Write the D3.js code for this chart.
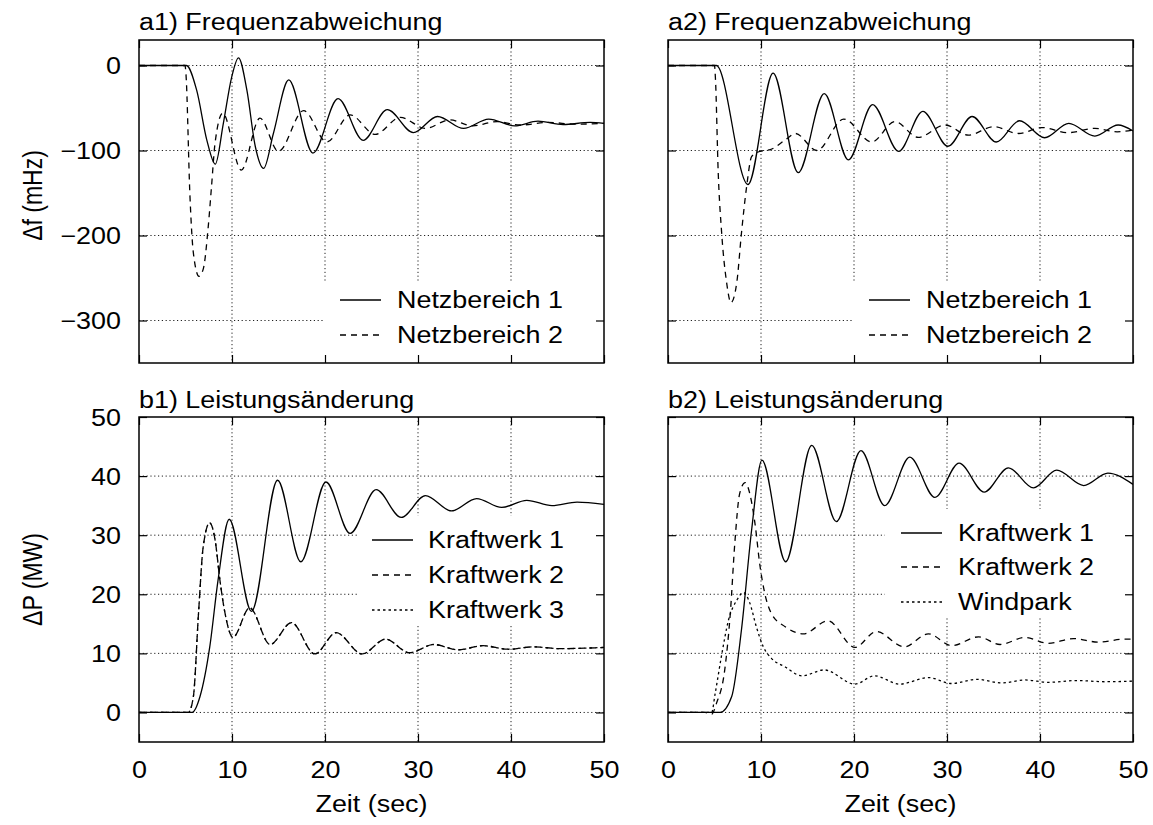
<!DOCTYPE html>
<html><head><meta charset="utf-8">
<script src="https://cdn.jsdelivr.net/npm/d3@7"></script>
<style>
body{margin:0;background:#fff}
svg{display:block}
text{font-family:"Liberation Sans",Arial,Helvetica,sans-serif;font-size:23px;fill:#000}
</style>
</head><body>
<svg id="c" width="1153" height="825"></svg>
<script>
// ---------- data ----------
const xTicks = [0, 10, 20, 30, 40, 50];
const fTicks = [-300, -200, -100, 0];
const pTicks = [0, 10, 20, 30, 40, 50];
const fLabels = ["\u2212300", "\u2212200", "\u2212100", "0"];

const titles = ["a1) Frequenzabweichung", "a2) Frequenzabweichung", "b1) Leistungs\u00e4nderung", "b2) Leistungs\u00e4nderung"];
const namesA = ["Netzbereich 1", "Netzbereich 2"];
const namesB1 = ["Kraftwerk 1", "Kraftwerk 2", "Kraftwerk 3"];
const namesB2 = ["Kraftwerk 1", "Kraftwerk 2", "Windpark"];

// a1: frequency deviation (mHz) vs time (s)
const a1Net1 = [[0,0],[5.1,0],[6.2,-29],[7.3,-88],[8.2,-116],[9.07,-68],[9.96,-14],[10.7,9],[11.6,-29],[12.5,-95],[13.4,-121],[14.45,-80],[16.1,-17],[18.7,-103],[21.4,-39],[24.1,-88],[26.7,-52],[29.5,-79],[32.1,-60],[34.9,-74],[37.6,-63],[40.4,-71],[42.9,-65.5],[45.6,-69.5],[48.5,-67],[50,-68]];
const a1Net2 = [[0,0],[4.95,0],[5.05,-10],[5.48,-154],[5.84,-220],[6.45,-248],[6.92,-239],[7.45,-189],[7.8,-142],[8.17,-92],[9.0,-56],[11.0,-123],[13.0,-62],[15.0,-101],[17.7,-53],[20.2,-90],[22.7,-58],[25.4,-81],[28.1,-61],[30.8,-74],[33.4,-64],[35.9,-71],[38.5,-66],[41,-70],[44,-67],[47,-69],[50,-68]];
// a2
const a2Net1 = [[0,0],[5.2,0],[8.6,-140],[11.3,-9],[14.0,-126],[16.8,-33],[19.4,-111],[22.0,-46],[24.8,-101],[27.4,-54],[30.1,-95],[32.7,-60],[35.3,-90],[37.8,-65],[40.5,-85],[43.1,-68],[45.9,-83],[48.4,-70],[50,-77]];
const a2Net2 = [[0,0],[5.0,0],[5.1,-15],[5.4,-126],[5.77,-197],[6.3,-255],[6.77,-279],[7.4,-255],[7.9,-197],[8.46,-142],[9.0,-107],[9.9,-101],[11,-99],[12.8,-86],[13.7,-80],[16,-100],[18.9,-63],[21.9,-90],[24.4,-66],[26.9,-84.5],[29.8,-70],[32.3,-82],[35,-72],[37.7,-80],[40.2,-73],[43,-79],[45.9,-74],[48.3,-78],[50,-76]];
// b1: power change (MW)
const b1K1 = [[0,0],[5.7,0],[6.56,2.7],[7.6,11],[8.5,22.4],[9.7,32.7],[12.1,17.1],[14.9,39.3],[17.4,25.5],[20.1,39],[22.7,30.3],[25.5,37.7],[28.2,33],[30.8,36.7],[33.6,34.1],[36.3,36.2],[39,34.7],[41.7,35.9],[44.4,35],[47.1,35.6],[50,35.2]];
const b1K2 = [[0,0],[5.3,0],[5.84,2.6],[6.4,16.8],[6.9,28],[7.6,32.1],[8.2,29],[8.7,22.4],[9.25,16.8],[10.1,12.7],[11.9,17.7],[14.1,11.5],[16.4,15.2],[18.9,9.9],[21.2,13.5],[24,9.9],[26.5,12.4],[29.1,10.1],[31.7,11.5],[34.3,10.6],[37,11.3],[39.7,10.7],[42.4,11.1],[45.3,10.8],[50,11]];
const b1K3 = [[0,0],[5.3,0],[5.84,2.6],[6.4,16.8],[6.9,28],[7.6,32.1],[8.2,29],[8.7,22.4],[9.25,16.8],[10.1,12.7],[11.9,17.7],[14.1,11.5],[16.4,15.2],[18.9,9.9],[21.2,13.5],[24,9.9],[26.5,12.4],[29.1,10.1],[31.7,11.5],[34.3,10.6],[37,11.3],[39.7,10.7],[42.4,11.1],[45.3,10.8],[50,11]];
// b2
const b2K1 = [[0,0],[5.6,0],[6.85,2.7],[7.9,14],[9.0,31],[10.1,42.7],[12.65,25.5],[15.45,45.2],[18.1,32.3],[20.75,44.3],[23.3,35],[26,43.2],[28.7,36.4],[31.3,42.2],[34,37.3],[36.6,41.4],[39.3,38],[41.8,41],[44.7,38.4],[47.3,40.5],[50,38.6]];
const b2K2 = [[0,0],[4.0,0],[4.7,-0.3],[5.2,1.5],[6.1,7.2],[6.7,16.8],[7.2,29],[7.7,37],[8.3,38.9],[8.8,37],[9.35,32],[9.9,24.7],[10.4,20.2],[11.1,16.8],[12.6,14.5],[14.55,13.3],[17.2,15.5],[20.1,11],[22.4,13.7],[25.4,11.1],[28,13.3],[30.5,11.3],[33.4,12.8],[35.7,11.5],[38.4,12.7],[40.9,11.7],[43.6,12.5],[46.3,11.9],[49.1,12.4],[50,12.4]];
const b2Wind = [[0,0],[4.7,0],[5.05,3],[5.8,10],[6.5,15.6],[7.4,19],[8.1,20.3],[8.8,18.5],[9.5,14.5],[10.25,11.1],[11.1,9.2],[12.6,7.7],[14.4,6.2],[16.8,7.2],[20.1,4.8],[22.2,6.2],[24.9,4.8],[28,5.9],[30.5,4.9],[33.2,5.6],[35.9,5],[38.4,5.5],[40.9,5.1],[44,5.4],[47,5.2],[50,5.3]];

// ---------- layout / styles ----------
const SX = 1.17;            // horizontal text stretch of the original
const DASH = "6,5", DOT = "2.5,3";
const panels = [
  {title: titles[0], x0:139, x1:604, y0:40, y1:363, dom:[-350,30], yt:fTicks, ylab:fLabels, showY:true, showX:false,
   series:[{d:a1Net1,dash:null},{d:a1Net2,dash:DASH}], names:namesA,
   leg:{rows:[308,343], boxL:280, boxT:283, boxB:363, lineX:264, textX:207}},
  {title: titles[1], x0:668, x1:1133, y0:40, y1:363, dom:[-350,30], yt:fTicks, ylab:fLabels, showY:false, showX:false,
   series:[{d:a2Net1,dash:null},{d:a2Net2,dash:DASH}], names:namesA,
   leg:{rows:[308,343], boxL:280, boxT:283, boxB:363, lineX:264, textX:207}},
  {title: titles[2], x0:139, x1:604, y0:417, y1:742, dom:[-5,50], yt:pTicks, ylab:pTicks.map(String), showY:true, showX:true,
   series:[{d:b1K1,dash:null},{d:b1K2,dash:DASH},{d:b1K3,dash:DOT}], names:namesB1,
   leg:{rows:[548,583,618], boxL:247, boxT:516, boxB:624, lineX:232, textX:176}},
  {title: titles[3], x0:668, x1:1133, y0:417, y1:742, dom:[-5,50], yt:pTicks, ylab:pTicks.map(String), showY:false, showX:true,
   series:[{d:b2K1,dash:null},{d:b2K2,dash:DASH},{d:b2Wind,dash:DOT}], names:namesB2,
   leg:{rows:[541,575,610], boxL:248, boxT:509, boxB:617, lineX:232, textX:175}}
];

const svg = d3.select("#c");

function stretch(sel, x, y, anchor) {
  sel.attr("transform", `translate(${x},${y}) scale(${SX},1)`).attr("x", 0).attr("y", 0)
     .attr("text-anchor", anchor || "start");
}

panels.forEach((p, i) => {
  const x = d3.scaleLinear().domain([0, 50]).range([p.x0, p.x1]);
  const y = d3.scaleLinear().domain(p.dom).range([p.y1, p.y0]);
  const g = svg.append("g");
  const TL = 8;

  // grid
  g.append("g").selectAll("line").data(xTicks.filter(t => t > 0 && t < 50)).join("line")
    .attr("x1", d => x(d)).attr("x2", d => x(d)).attr("y1", p.y0).attr("y2", p.y1)
    .attr("stroke", "#222").attr("stroke-width", 1).attr("stroke-dasharray", "1.2,2.6");
  g.append("g").selectAll("line").data(p.yt.filter(t => y(t) > p.y0 + 1 && y(t) < p.y1 - 1)).join("line")
    .attr("x1", p.x0).attr("x2", p.x1).attr("y1", d => y(d)).attr("y2", d => y(d))
    .attr("stroke", "#222").attr("stroke-width", 1).attr("stroke-dasharray", "1.2,2.6");

  // legend background
  const L = p.leg;
  g.append("rect").attr("x", p.x1 - L.boxL).attr("y", L.boxT)
    .attr("width", L.boxL).attr("height", L.boxB - L.boxT).attr("fill", "#fff");

  // clip
  const cid = "clip" + i;
  svg.append("clipPath").attr("id", cid).append("rect")
    .attr("x", p.x0).attr("y", p.y0).attr("width", p.x1 - p.x0).attr("height", p.y1 - p.y0);

  // curves
  const line = d3.line().x(d => x(d[0])).y(d => y(d[1])).curve(d3.curveMonotoneX);
  const cg = g.append("g").attr("clip-path", `url(#${cid})`);
  p.series.forEach(s => {
    cg.append("path").attr("d", line(s.d)).attr("fill", "none").attr("stroke", "#000")
      .attr("stroke-width", 1.3).attr("stroke-dasharray", s.dash);
  });

  // axes (inward ticks, mirrored)
  const ax = [
    d3.axisBottom(x).tickValues(xTicks).tickSizeInner(-TL).tickSizeOuter(0).tickPadding(20),
    d3.axisTop(x).tickValues(xTicks).tickSizeInner(-TL).tickSizeOuter(0).tickFormat(""),
    d3.axisLeft(y).tickValues(p.yt).tickSizeInner(-TL).tickSizeOuter(0).tickPadding(18),
    d3.axisRight(y).tickValues(p.yt).tickSizeInner(-TL).tickSizeOuter(0).tickFormat("")
  ];
  const pos = [`translate(0,${p.y1})`, `translate(0,${p.y0})`, `translate(${p.x0},0)`, `translate(${p.x1},0)`];
  ax.forEach((a, k) => {
    const ag = g.append("g").attr("transform", pos[k]).call(a);
    ag.select(".domain").remove();
    ag.selectAll("line").attr("stroke", "#000").attr("stroke-width", 1.2);
    ag.attr("font-family", null).attr("font-size", null);
    if (k === 0) {
      if (!p.showX) ag.selectAll("text").remove();
      else ag.selectAll("text").each(function () {
        stretch(d3.select(this), 0, 20, "middle");
        d3.select(this).attr("dy", "0.71em");
      });
    } else if (k === 2) {
      if (!p.showY) ag.selectAll("text").remove();
      else ag.selectAll("text").each(function (d, j) {
        const t = d3.select(this);
        t.text(p.ylab[p.yt.indexOf(d)]);
        stretch(t, -18, 0, "end");
        t.attr("dy", "0.36em");
      });
    } else {
      ag.selectAll("text").remove();
    }
  });

  // border
  g.append("rect").attr("x", p.x0).attr("y", p.y0).attr("width", p.x1 - p.x0).attr("height", p.y1 - p.y0)
    .attr("fill", "none").attr("stroke", "#000").attr("stroke-width", 1.5);

  // legend
  p.names.forEach((n, k) => {
    const by = L.rows[k];
    g.append("line").attr("x1", p.x1 - L.lineX).attr("x2", p.x1 - L.lineX + 41)
      .attr("y1", by - 8).attr("y2", by - 8).attr("stroke", "#000").attr("stroke-width", 1.3)
      .attr("stroke-dasharray", p.series[k].dash);
    stretch(g.append("text").text(n), p.x1 - L.textX, by, "start");
  });

  // title
  stretch(g.append("text").text(p.title), p.x0, i < 2 ? 30 : 408, "start");

  // axis titles
  if (p.showX) stretch(g.append("text").text("Zeit (sec)"), (p.x0 + p.x1) / 2, 812, "middle");
  if (p.showY) {
    g.append("text").text(i < 2 ? "\u0394f (mHz)" : "\u0394P (MW)")
      .attr("transform", `translate(32,${(p.y0 + p.y1) / 2 - (i < 2 ? 6 : 0)}) scale(${SX},1) rotate(-90)`)
      .attr("text-anchor", "middle").attr("dy", "0.36em");
  }
});
</script>
</body></html>
